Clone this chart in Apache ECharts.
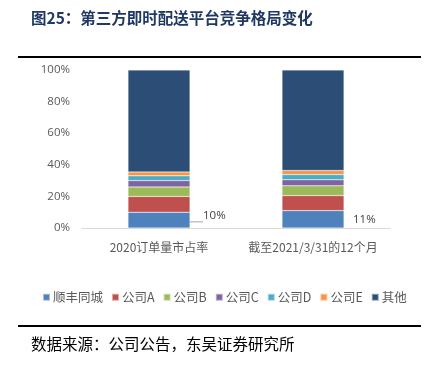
<!DOCTYPE html>
<html>
<head>
<meta charset="utf-8">
<script src="https://cdn.jsdelivr.net/npm/echarts@6/dist/echarts.min.js"></script>
<style>
  html, body { margin: 0; padding: 0; background: #fff; }
  #main { width: 435px; height: 368px; }
</style>
</head>
<body>
<div id="main"></div>
<script>
const categories = ['2020订单量市占率', '截至2021/3/31的12个月'];
const seriesNames = ['顺丰同城', '公司A', '公司B', '公司C', '公司D', '公司E', '其他'];
const sfValues = [10, 11];
const aValues = [10, 9.5];
const bValues = [6, 6.2];
const cValues = [4, 3.8];
const dValues = [3, 3.3];
const eValues = [2.5, 2.6];
const otherValues = [64.5, 63.6];
const yTicks = [0, 20, 40, 60, 80, 100];

const colors = ['#4f81bd', '#c0504d', '#9bbb59', '#8064a2', '#4bacc6', '#f79646', '#2c4d75'];
const allValues = [sfValues, aValues, bValues, cValues, dValues, eValues, otherValues];

const chart = echarts.init(document.getElementById('main'));

const series = seriesNames.map(function (name, i) {
  const s = {
    name: name,
    type: 'bar',
    stack: 'total',
    barWidth: 62,
    itemStyle: { color: colors[i], borderColor: 'rgba(255,255,255,0.5)', borderWidth: 0.5 },
    data: allValues[i]
  };
  if (i === 0) {
    s.data = allValues[i].map(function (v, j) {
      return {
        value: v,
        label: {
          show: true,
          position: 'right',
          distance: j === 0 ? 13 : 9,
          offset: j === 0 ? [0, -4] : [0, 0],
          formatter: '{c}%',
          color: '#404040',
          fontSize: 11.5,
          fontFamily: 'Open Sans, Noto Sans CJK SC'
        },
        labelLine: { show: j === 0, length2: 0, lineStyle: { color: '#a6a6a6', width: 1 } }
      };
    });
  }
  return s;
});

chart.setOption({
  animation: false,
  color: colors,
  textStyle: { fontFamily: 'Noto Sans CJK SC' },
  grid: { left: 82, right: 45, top: 70, bottom: 140 },
  xAxis: {
    type: 'category',
    data: categories,
    axisTick: { show: false },
    axisLine: { lineStyle: { color: '#d9d9d9', width: 1 } },
    axisLabel: { color: '#595959', fontSize: 12, margin: 13, interval: 0 }
  },
  yAxis: {
    type: 'value',
    min: yTicks[0],
    max: yTicks[yTicks.length - 1],
    interval: 20,
    splitLine: { show: false },
    axisLine: { show: false },
    axisTick: { show: false },
    axisLabel: { color: '#595959', fontSize: 11.5, margin: 12, formatter: '{value}%', fontFamily: 'Open Sans, Noto Sans CJK SC' }
  },
  legend: {
    data: seriesNames,
    left: 37,
    top: 286,
    itemWidth: 7,
    itemHeight: 7,
    itemGap: 8,
    icon: 'rect',
    textStyle: { color: '#595959', fontSize: 12.5, padding: [0, 0, 0, -2] }
  },
  title: [
    {
      text: '图25：第三方即时配送平台竞争格局变化',
      left: 26,
      top: 5,
      textStyle: { color: '#1f3864', fontSize: 15.5, fontWeight: 'bold', fontFamily: 'Noto Sans CJK SC' }
    },
    {
      text: '数据来源：公司公告，东吴证券研究所',
      left: 26,
      top: 331,
      textStyle: { color: '#000', fontSize: 15.5, fontWeight: 'normal', fontFamily: 'Noto Sans CJK SC' }
    }
  ],
  graphic: [
    { type: 'rect', shape: { x: 18, y: 56, width: 403, height: 2 }, style: { fill: '#000' } },
    { type: 'rect', shape: { x: 18, y: 325, width: 403, height: 2 }, style: { fill: '#000' } }
  ],
  series: series
});
</script>
</body>
</html>
